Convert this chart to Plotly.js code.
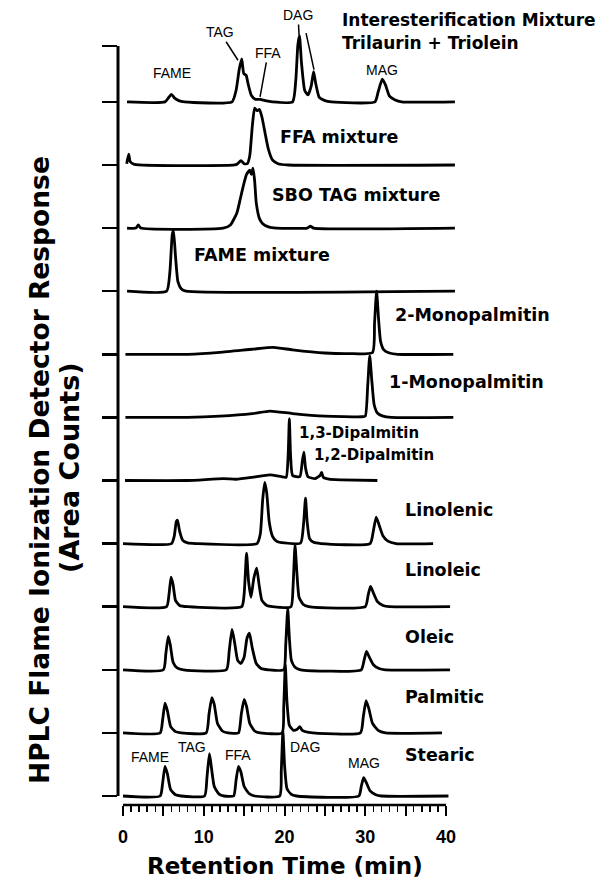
<!DOCTYPE html>
<html>
<head>
<meta charset="utf-8">
<script src="https://cdn.plot.ly/plotly-3.0.1.min.js"></script>
<style>html,body{margin:0;padding:0;background:#fff;}#chart{width:603px;height:884px;}</style>
</head>
<body>
<div id="chart"></div>
<script>
// ---- Chromatogram data: retention time (min) and detector response (relative to each trace's baseline) ----
const interT = [0.5,5.2,5.6,6.0,6.4,6.9,7.6,13.5,14.0,14.4,14.7,14.95,15.25,15.5,15.9,16.4,17.0,17.6,18.5,21.0,21.4,21.65,21.85,22.1,22.5,22.9,23.3,23.6,23.85,24.3,25.0,25.8,31.2,31.6,32.1,32.5,33.0,33.7,34.5,41.1];
const interV = [0,0,0.06,0.12,0.06,0.02,0,0,0.18,0.52,0.68,0.45,0.42,0.28,0.1,0.04,0.04,0.02,0,0,0.35,0.9,1.05,0.62,0.18,0.11,0.25,0.48,0.3,0.07,0.02,0,0,0.16,0.36,0.27,0.09,0.03,0,0];

const ffaT = [0.46,0.7,0.9,1.4,13.8,14.2,14.6,15.0,15.4,15.7,16.0,16.3,16.6,16.9,17.2,17.6,18.0,18.5,19.2,20.5,41.1];
const ffaV = [0.02,0.17,0.05,0.01,0,0.02,0.07,0.02,0.02,0.15,0.6,0.9,0.86,0.88,0.76,0.5,0.25,0.08,0.02,0,0];

const sboT = [0.5,1.6,1.9,2.2,12.4,13.3,14.1,14.5,14.9,15.3,15.7,15.9,16.1,16.3,16.5,16.9,17.3,18.0,19.0,22.8,23.2,23.6,41.1];
const sboV = [0,0,0.05,0,0,0.05,0.24,0.45,0.67,0.85,0.92,0.85,0.95,0.75,0.4,0.15,0.07,0.02,0,0,0.03,0,0];

const fameT = [0.5,5.4,5.8,6.1,6.25,6.5,6.8,7.2,7.8,41.1];
const fameV = [0,0,0.3,0.9,0.96,0.55,0.15,0.04,0,0];

const mono2T = [0.3,8,12,16,18.6,21,25,28,30.9,31.15,31.4,31.65,31.9,32.3,33.0,34,40.9];
const mono2V = [0,0,0.03,0.08,0.11,0.07,0.02,0.01,0.03,0.5,1.0,0.55,0.2,0.07,0.02,0,0];

const mono1T = [0.3,8,12,16,18.2,21,25,29.5,30.0,30.3,30.55,30.8,31.1,31.5,32.2,33.2,40.9];
const mono1V = [0,0,0.02,0.06,0.1,0.06,0.02,0.01,0.02,0.5,0.98,0.6,0.2,0.07,0.02,0,0];

const dipT = [0.25,8,12.4,14,16,18.2,19.6,20.2,20.45,20.6,20.75,21.0,21.9,22.2,22.4,22.6,22.9,23.8,24.4,24.6,24.8,25.5,27,31.5];
const dipV = [0,0,0.03,0.02,0.05,0.09,0.06,0.05,0.4,0.98,0.4,0.08,0.06,0.3,0.45,0.2,0.06,0.03,0.08,0.13,0.05,0.02,0.01,0];

const lnnT = [0,6.0,6.35,6.6,6.75,7.0,7.4,8.0,9,16.6,17.0,17.3,17.55,17.8,18.1,18.5,19.0,20,22.0,22.35,22.6,22.8,23.1,23.6,24.5,30.6,31.0,31.35,31.7,32.2,32.8,33.8,38.4];
const lnnV = [0,0,0.12,0.35,0.37,0.2,0.05,0.01,0,0,0.15,0.7,0.97,0.8,0.35,0.12,0.04,0.01,0.01,0.3,0.72,0.35,0.08,0.02,0,0,0.2,0.42,0.3,0.12,0.04,0,0];

const lnlT = [0,5.4,5.7,5.95,6.2,6.5,7.0,8,14.7,15.0,15.3,15.55,15.85,16.2,16.55,16.85,17.2,17.8,18.5,20.8,21.05,21.3,21.55,21.8,22.3,23,30.0,30.35,30.65,31.0,31.5,32.2,33,40.5];
const lnlV = [0,0,0.2,0.47,0.35,0.1,0.02,0,0,0.2,0.85,0.4,0.15,0.45,0.61,0.35,0.1,0.02,0,0,0.3,0.98,0.5,0.15,0.04,0,0,0.18,0.32,0.22,0.08,0.02,0,0];

const oleT = [0,5.0,5.3,5.6,5.85,6.2,6.7,7.5,12.8,13.15,13.5,13.8,14.2,14.6,15.0,15.35,15.65,16.0,16.5,17.1,18,19.9,20.15,20.4,20.6,20.85,21.3,22,29.5,29.85,30.15,30.5,31.0,31.7,32.5,40.5];
const oleV = [0,0,0.25,0.53,0.4,0.12,0.03,0,0,0.3,0.64,0.45,0.15,0.1,0.2,0.5,0.58,0.35,0.1,0.02,0,0,0.4,0.97,0.5,0.15,0.04,0,0,0.15,0.29,0.2,0.08,0.02,0,0];

const palT = [0,4.6,4.9,5.2,5.5,5.9,6.5,7.2,10.3,10.65,11.0,11.3,11.7,12.3,13,14.3,14.65,15.0,15.3,15.7,16.3,17,19.7,19.9,20.1,20.3,20.6,21.1,21.6,21.9,22.2,23,29.4,29.75,30.1,30.45,30.9,31.6,32.5,39.5];
const palV = [0,0,0.2,0.47,0.35,0.1,0.02,0,0,0.3,0.56,0.45,0.15,0.03,0,0,0.3,0.53,0.42,0.15,0.03,0,0,0.4,1.08,0.5,0.12,0.04,0.06,0.1,0.04,0.01,0,0.25,0.51,0.38,0.15,0.04,0,0];

const steT = [0,4.6,4.9,5.2,5.5,5.9,6.5,7.2,10.1,10.4,10.7,10.95,11.3,11.9,12.5,13.7,14.0,14.3,14.6,15.0,15.6,16.3,19.4,19.6,19.8,20.0,20.3,20.8,21.5,29.2,29.5,29.8,30.1,30.6,31.3,32,40.3];
const steV = [0,0,0.2,0.47,0.35,0.1,0.02,0,0,0.3,0.67,0.45,0.15,0.03,0,0,0.25,0.47,0.38,0.15,0.04,0,0,0.4,1.03,0.5,0.12,0.03,0,0,0.15,0.29,0.22,0.08,0.02,0,0];

// baseline level of each trace (stack order, top to bottom)
const seriesT = [interT, ffaT, sboT, fameT, mono2T, mono1T, dipT, lnnT, lnlT, oleT, palT, steT];
const seriesV = [interV, ffaV, sboV, fameV, mono2V, mono1V, dipV, lnnV, lnlV, oleV, palV, steV];
const baselines = [11,10,9,8,7,6,5,4,3,2,1,0];

// labels
const nameLabels = ['FFA mixture','SBO TAG mixture','FAME mixture','2-Monopalmitin','1-Monopalmitin','Linolenic','Linoleic','Oleic','Palmitic','Stearic'];
const nameX = [19.2,18.2,8.55,33.4,32.7,34.7,34.7,34.7,34.7,34.7];
const nameY = [10.44,9.52,8.57,7.62,6.56,4.53,3.58,2.52,1.57,0.65];
const dipLabels = ['1,3-Dipalmitin','1,2-Dipalmitin'];
const dipX = [21.5,23.4];
const dipY = [5.75,5.40];
const titleLines = ['Interesterification Mixture','Trilaurin + Triolein'];
const titleY = [12.30,11.93];
const classLabels = ['FAME','TAG','FFA','DAG','MAG'];
const stearicLabelX = [3.34,8.54,14.24,22.54,29.85];
const stearicLabelY = [0.62,0.78,0.65,0.78,0.52];
const xTickVals = [0,5,10,15,20,25,30,35,40];
const xTickText = ['0','','10','','20','','30','','40'];
const xMinorVals = [1,2,3,4,6,7,8,9,11,12,13,14,16,17,18,19,21,22,23,24,26,27,28,29,31,32,33,34,36,37,38,39];
const yTickVals = [0,1,2,3,4,5,6,7,8,9,10,11,11.886];

const traces = seriesT.map((t, i) => ({
  x: t,
  y: seriesV[i].map(v => v + baselines[i]),
  mode: 'lines',
  type: 'scatter',
  line: {color: '#000', width: 2.8, shape: 'spline', smoothing: 0.5},
  hoverinfo: 'skip',
  showlegend: false
}));

const bold = (s) => ({family: 'DejaVu Sans', size: s, color: '#000', weight: 'bold'});
const reg = (s) => ({family: 'Liberation Sans', size: s, color: '#000'});

const annotations = [];
nameLabels.forEach((txt, i) => annotations.push({x: nameX[i], y: nameY[i], xref: 'x', yref: 'y', text: txt, showarrow: false, xanchor: 'left', yanchor: 'middle', font: bold(17.5)}));
dipLabels.forEach((txt, i) => annotations.push({x: dipX[i], y: dipY[i], xref: 'x', yref: 'y', text: txt, showarrow: false, xanchor: 'left', yanchor: 'middle', font: bold(15)}));
titleLines.forEach((txt, i) => annotations.push({x: 26.87, y: titleY[i], xref: 'x', yref: 'y', text: txt, showarrow: false, xanchor: 'left', yanchor: 'middle', font: bold(17)}));
classLabels.forEach((txt, i) => annotations.push({x: stearicLabelX[i], y: stearicLabelY[i], xref: 'x', yref: 'y', text: txt, showarrow: false, xanchor: 'center', yanchor: 'middle', font: reg(14)}));
// top-trace labels
annotations.push({x: 6.07, y: 11.46, xref: 'x', yref: 'y', text: 'FAME', showarrow: false, font: reg(14)});
annotations.push({x: 32.07, y: 11.51, xref: 'x', yref: 'y', text: 'MAG', showarrow: false, font: reg(14)});
const arrowCommon = {xref: 'x', yref: 'y', showarrow: true, arrowhead: 0, arrowwidth: 1.5, arrowcolor: '#000', standoff: 0, font: reg(14)};
annotations.push(Object.assign({x: 14.24, y: 11.66, ax: -18, ay: -28, text: 'TAG'}, arrowCommon));
annotations.push(Object.assign({x: 16.97, y: 11.08, ax: 8, ay: -44, text: 'FFA'}, arrowCommon));
annotations.push(Object.assign({x: 21.8, y: 12.06, ax: -1, ay: -20, text: 'DAG'}, arrowCommon));
annotations.push(Object.assign({x: 23.65, y: 11.51, ax: -10, ay: -46, text: ' '}, arrowCommon));
// axis titles
annotations.push({x: 20.06, y: -0.0767, xref: 'x', yref: 'paper', text: 'Retention Time (min)', showarrow: false, xanchor: 'center', yanchor: 'middle', font: bold(23)});
annotations.push({x: -0.2281, y: 0.4214, xref: 'paper', yref: 'paper', text: 'HPLC Flame Ionization Detector Response', textangle: -90, showarrow: false, xanchor: 'center', yanchor: 'middle', font: bold(26.5)});
annotations.push({x: -0.1404, y: 0.4252, xref: 'paper', yref: 'paper', text: '(Area Counts)', textangle: -90, showarrow: false, xanchor: 'center', yanchor: 'middle', font: bold(27)});

const layout = {
  width: 603, height: 884,
  margin: {l: 118, r: 143, t: 10, b: 79},
  paper_bgcolor: '#fff', plot_bgcolor: '#fff',
  showlegend: false,
  xaxis: {
    range: [-0.62, 41.73], showgrid: false, zeroline: false, showline: false,
    tickmode: 'array', tickvals: xTickVals, ticktext: xTickText,
    ticks: 'outside', ticklen: 10, tickwidth: 2, tickcolor: '#000',
    ticklabelstandoff: 5,
    tickfont: {family: 'Liberation Sans', size: 18, color: '#000', weight: 'bold'},
    minor: {tickmode: 'array', tickvals: xMinorVals, ticks: 'outside', ticklen: 6, tickwidth: 1.5, tickcolor: '#000'}
  },
  yaxis: {
    range: [-0.1426, 12.456], showgrid: false, zeroline: false, showline: false,
    tickmode: 'array', tickvals: yTickVals, showticklabels: false,
    ticks: 'outside', ticklen: 15, tickwidth: 2.5, tickcolor: '#000'
  },
  shapes: [
    {type: 'line', xref: 'x', yref: 'paper', x0: 0, x1: 40, y0: 0, y1: 0, line: {color: '#000', width: 2.5}},
    {type: 'line', xref: 'paper', yref: 'y', x0: 0, x1: 0, y0: 0, y1: 11.886, line: {color: '#000', width: 3}}
  ],
  annotations: annotations
};

Plotly.newPlot('chart', traces, layout, {staticPlot: true, displayModeBar: false});
</script>
</body>
</html>
